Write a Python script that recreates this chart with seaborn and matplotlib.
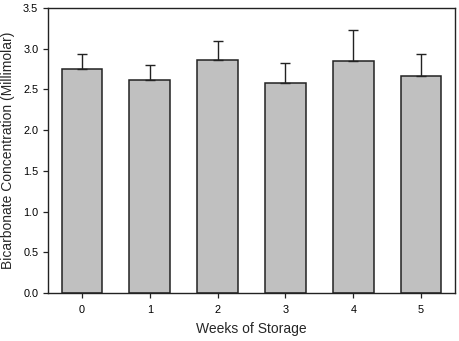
import numpy as np
import pandas as pd
import matplotlib
matplotlib.use("Agg")
import matplotlib.pyplot as plt
import seaborn as sns

# ── data ─────────────────────────────────────────────────────────────────────
weeks = ["0", "1", "2", "3", "4", "5"]
bicarbonate = [2.75, 2.61, 2.86, 2.58, 2.85, 2.67]
sd_upper = [0.19, 0.19, 0.24, 0.24, 0.38, 0.27]

sns.set_style("ticks")
plt.rcParams["font.family"] = ["Liberation Sans", "DejaVu Sans"]

df = pd.DataFrame({"week": weeks, "conc": bicarbonate})

fig = plt.figure(figsize=(4.59, 3.41), dpi=100)
ax = fig.add_axes([0.1046, 0.1408, 0.8867, 0.8358])

sns.barplot(data=df, x="week", y="conc", order=weeks, color="#c0c0c0",
            saturation=1, width=0.6, edgecolor="#222222", linewidth=1.1,
            errorbar=None, ax=ax)

# upper-only error bars
ax.errorbar(np.arange(len(weeks)), bicarbonate,
            yerr=[np.zeros(len(weeks)), sd_upper],
            fmt="none", ecolor="#222222", elinewidth=1.0, capsize=3.6,
            capthick=1.0, zorder=1)

ax.set_xlim(-0.5, 5.5)
ax.set_ylim(0, 3.5)
ax.set_yticks(np.arange(0, 3.51, 0.5))
ax.set_yticklabels([f"{v:.1f}" for v in np.arange(0, 3.51, 0.5)])

for s in ax.spines.values():
    s.set_visible(True)
    s.set_linewidth(1.0)
    s.set_color("#222222")

ax.tick_params(axis="both", direction="out", length=3.5, width=0.9,
               labelsize=7.8, colors="#222222", labelcolor="black",
               top=False, right=False)
ax.tick_params(axis="x", pad=5)
ax.set_xlabel("Weeks of Storage", fontsize=10, labelpad=5)
ax.set_ylabel("Bicarbonate Concentration (Millimolar)", fontsize=10, labelpad=6)

fig.savefig("out.png", dpi=100)
